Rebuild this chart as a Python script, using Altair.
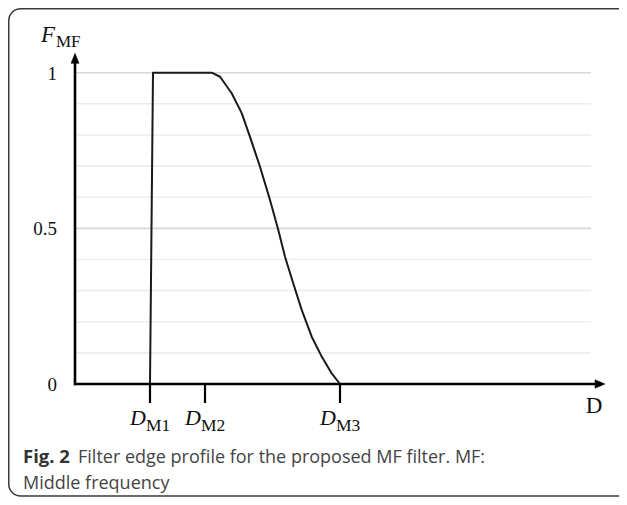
import altair as alt
import pandas as pd

# ---- data ----
curve_x = [7.5, 7.8, 13.67, 14.5, 15.67, 16.67, 17.5, 18.5, 19.5, 20.33, 21.0, 21.83, 22.67, 23.67, 24.67, 25.67, 26.5]
curve_y = [0.0, 1.0, 1.0, 0.987, 0.934, 0.870, 0.794, 0.698, 0.591, 0.495, 0.409, 0.323, 0.238, 0.152, 0.088, 0.034, 0.0]

grid_y = [0.1, 0.2, 0.3, 0.4, 0.5, 0.6, 0.7, 0.8, 0.9, 1.0]
grid_kind = ["minor", "minor", "minor", "minor", "major", "minor", "minor", "minor", "minor", "major"]

ytick_values = [0.0, 0.5, 1.0]
ytick_labels = ["0", "0.5", "1"]

dm_positions = [7.5, 13.0, 26.5]
dm_main = ["D", "D", "D"]
dm_sub = ["M1", "M2", "M3"]

caption_bold = "Fig. 2"
caption_line1 = "Filter edge profile for the proposed MF filter. MF:"
caption_line2 = "Middle frequency"

# ---- layout ----
W, H = 611, 489
X_MAX = 52.0
GRID_END = 51.6
Y_TOP = 1.034
TICK_LEN = -0.061

xs = alt.Scale(domain=[-6.7, 54.4], nice=False, zero=False)
ys = alt.Scale(domain=[-0.363, 1.2078], nice=False, zero=False)


def X(f):
    return alt.X(f, type="quantitative", scale=xs, axis=None)


def Y(f):
    return alt.Y(f, type="quantitative", scale=ys, axis=None)


SERIF = "Liberation Serif"
SANS = "Open Sans"

one = pd.DataFrame({"k": [0]})

frame = alt.Chart(one).mark_rect(
    fill="transparent", stroke="#3a3a3a", strokeWidth=1.5, cornerRadius=12
).encode(x=alt.value(0.75), x2=alt.value(W + 14), y=alt.value(0.75), y2=alt.value(H - 1))

grid_df = pd.DataFrame({"y": grid_y, "kind": grid_kind, "x": 0.0, "x2": GRID_END})
grid = alt.Chart(grid_df).mark_rule(strokeWidth=1.6).encode(
    x=X("x"), x2="x2", y=Y("y"),
    color=alt.Color("kind:N", scale=alt.Scale(domain=["minor", "major"], range=["#ededed", "#d6d6d6"]), legend=None),
)

axes_df = pd.DataFrame({"x": [0.0, -0.1], "x2": [0.0, X_MAX], "y": [-0.004, 0.0], "y2": [Y_TOP, 0.0]})
axes = alt.Chart(axes_df).mark_rule(color="black", strokeWidth=2.6).encode(
    x=X("x"), x2="x2", y=Y("y"), y2="y2"
)

arrow_up = alt.Chart(pd.DataFrame({"x": [0.0], "y": [1.046]})).mark_point(
    shape="M-0.8,1 L0,-1 L0.8,1 Z", filled=True, fill="black", stroke="black", strokeWidth=0.5, size=100, opacity=1
).encode(x=X("x"), y=Y("y"))

arrow_right = alt.Chart(pd.DataFrame({"x": [52.5], "y": [0.0]})).mark_point(
    shape="M-1,-0.85 L1,0 L-1,0.85 Z", filled=True, fill="black", stroke="black", strokeWidth=0.5, size=100, opacity=1
).encode(x=X("x"), y=Y("y"))

tick_df = pd.DataFrame({"x": dm_positions, "y": 0.0, "y2": TICK_LEN})
ticks = alt.Chart(tick_df).mark_rule(color="black", strokeWidth=2.2).encode(x=X("x"), y=Y("y"), y2="y2")

curve_df = pd.DataFrame({"x": curve_x, "y": curve_y, "i": list(range(len(curve_x)))})
curve = alt.Chart(curve_df).mark_line(color="#1a1a1a", strokeWidth=2, strokeJoin="round").encode(
    x=X("x"), y=Y("y"), order="i:Q"
)

ylab_df = pd.DataFrame({"y": ytick_values, "t": ytick_labels, "x": -1.8})
ylabels = alt.Chart(ylab_df).mark_text(
    font=SERIF, fontSize=19, align="right", baseline="middle", color="#111", dy=1
).encode(x=X("x"), y=Y("y"), text="t:N")

dm_df = pd.DataFrame({"x": dm_positions, "main": dm_main, "sub": dm_sub, "y": -0.1317, "ys": -0.151})
dm_main_t = alt.Chart(dm_df).mark_text(
    font=SERIF, fontSize=22, fontStyle="italic", align="right", baseline="alphabetic", color="#111", dx=-4
).encode(x=X("x"), y=Y("y"), text="main:N")
dm_sub_t = alt.Chart(dm_df).mark_text(
    font=SERIF, fontSize=17.5, align="left", baseline="alphabetic", color="#111", dx=-4
).encode(x=X("x"), y=Y("ys"), text="sub:N")

fmf_df = pd.DataFrame({"x": [-2.0, -1.9], "y": [1.0996, 1.0835], "t": ["F", "MF"], "kind": ["main", "sub"]})
f_main = alt.Chart(fmf_df[fmf_df.kind == "main"]).mark_text(
    font=SERIF, fontSize=23, fontStyle="italic", align="right", baseline="alphabetic", color="#111"
).encode(x=X("x"), y=Y("y"), text="t:N")
f_sub = alt.Chart(fmf_df[fmf_df.kind == "sub"]).mark_text(
    font=SERIF, fontSize=17, align="left", baseline="alphabetic", color="#111"
).encode(x=X("x"), y=Y("y"), text="t:N")

d_label = alt.Chart(pd.DataFrame({"x": [51.9], "y": [-0.093], "t": ["D"]})).mark_text(
    font=SERIF, fontSize=23, align="center", baseline="alphabetic", color="#111"
).encode(x=X("x"), y=Y("y"), text="t:N")

cap_bold = alt.Chart(pd.DataFrame({"t": [caption_bold]})).mark_text(
    font=SANS, fontSize=18.5, fontWeight="bold", align="left", baseline="alphabetic", color="#333"
).encode(x=alt.value(15), y=alt.value(455), text="t:N")
cap_l1 = alt.Chart(pd.DataFrame({"t": [caption_line1]})).mark_text(
    font=SANS, fontSize=18, align="left", baseline="alphabetic", color="#444"
).encode(x=alt.value(70), y=alt.value(455), text="t:N")
cap_l2 = alt.Chart(pd.DataFrame({"t": [caption_line2]})).mark_text(
    font=SANS, fontSize=18, align="left", baseline="alphabetic", color="#444"
).encode(x=alt.value(15), y=alt.value(481), text="t:N")

chart = alt.layer(
    frame, grid, curve, axes, arrow_up, arrow_right, ticks, ylabels,
    dm_main_t, dm_sub_t, f_main, f_sub, d_label, cap_bold, cap_l1, cap_l2,
).properties(
    width=W, height=H, autosize=alt.AutoSizeParams(type="none"), padding=0, background="white"
).configure_view(stroke=None)

chart.save("out.html", embed_options={"renderer": "svg", "actions": False})
